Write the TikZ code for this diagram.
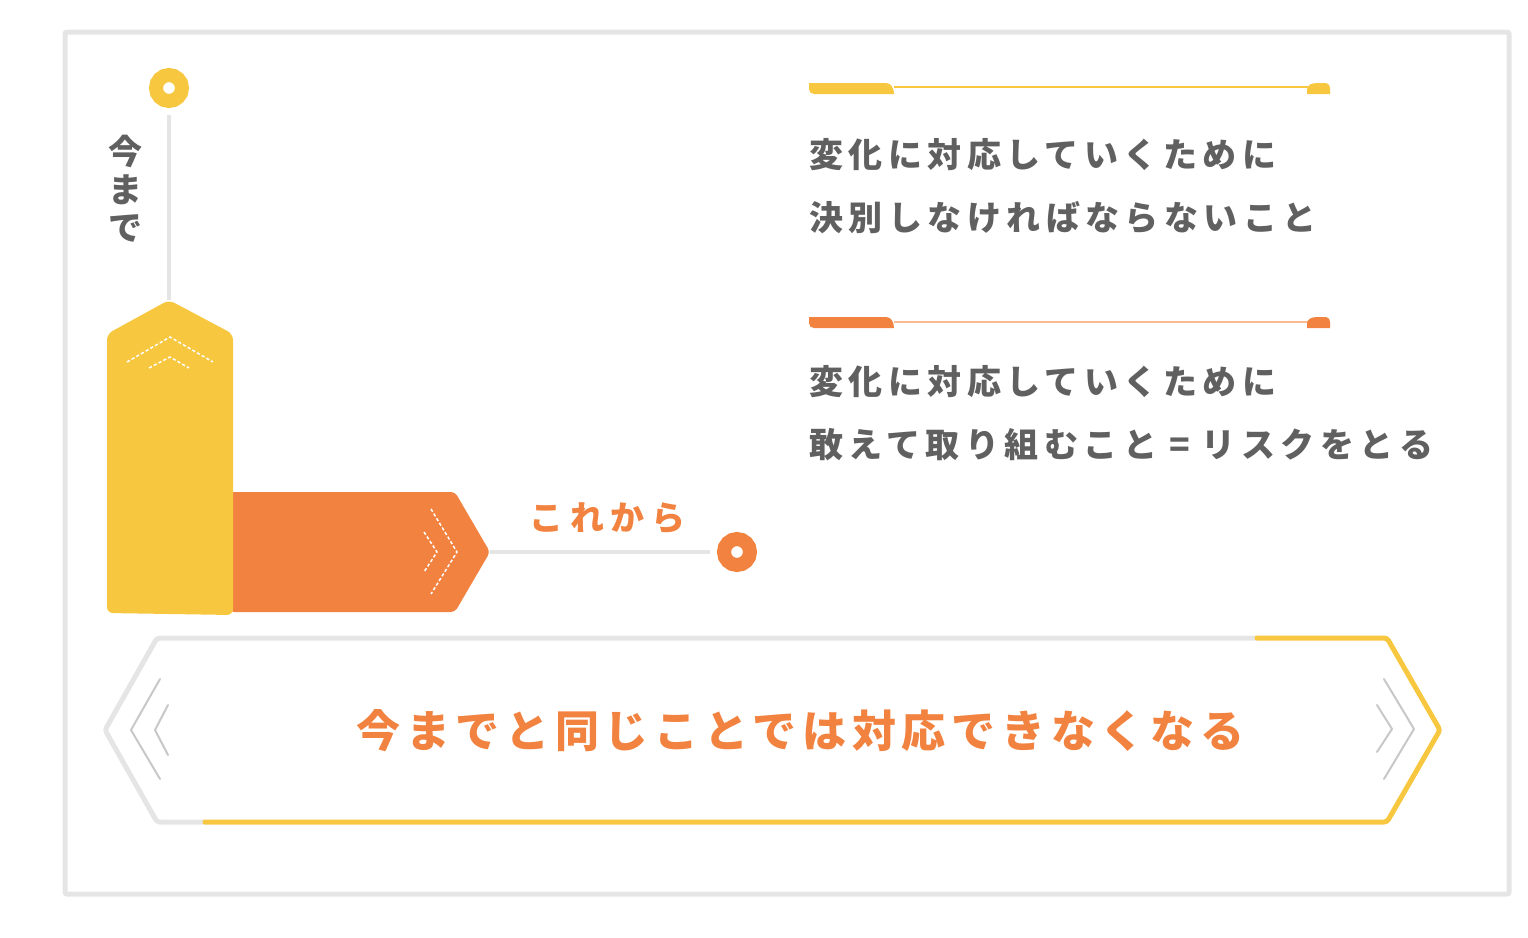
\documentclass[tikz,border=0pt]{standalone}
\usepackage{fontspec}
\usepackage{tikz}
\newfontfamily\jpfont{Noto Sans CJK JP}
\definecolor{MarkYellow}{RGB}{247,199,64}
\definecolor{MarkOrange}{RGB}{242,130,63}
\definecolor{PaleOrange}{RGB}{249,187,148}
\definecolor{TextGray}{RGB}{96,96,96}
\definecolor{LineGray}{RGB}{229,229,229}
\definecolor{ChevGray}{RGB}{200,200,200}

\begin{document}
\begin{tikzpicture}[x=0.5pt, y=-0.5pt,
  ring/.style={circle, draw=#1, line width=7pt, fill=white, minimum size=13pt, inner sep=0pt},
  stem/.style={LineGray, line width=2pt},
  note/.style={anchor=west, inner sep=0pt, text=TextGray,
    font=\jpfont\bfseries\addfontfeatures{LetterSpace=16}\fontsize{17pt}{20pt}\selectfont},
  stitch/.style={white, line width=0.75pt, dash pattern=on 1.6pt off 1.1pt},
  chev/.style={ChevGray, line width=1pt, line cap=round, line join=round}]
\useasboundingbox (0,0) rectangle (1528,938);

% Frame
\draw[LineGray, line width=2.5pt, rounded corners=1pt] (65,32) rectangle (1509,894);

% Arrows
\fill[MarkOrange, rounded corners=2pt] (230,492) -- (455,492) -- (490,552) -- (455,612) -- (230,612) -- cycle;
\coordinate (futuretip) at (490,552);
\draw[stitch] (431,509) -- (457,552) -- (431,594);
\draw[stitch] (424,532) -- (437,552) -- (424,572);

\fill[MarkYellow, rounded corners=3pt] (169,300) -- (233,334) -- (233,615) -- (107,613) -- (107,334) -- cycle;
\coordinate (pasttip) at (169,300);
\draw[stitch] (127,362) -- (170,337) -- (213,362);
\draw[stitch] (149,368) -- (170,357) -- (189,368);

% Nodes
\node[ring=MarkYellow] (dotpast) at (169,88) {};
\node[ring=MarkOrange] (dotfuture) at (737,552) {};
\draw[stem, shorten <=3.5pt] (dotpast) -- (pasttip);
\draw[stem, shorten >=3.5pt] (futuretip) -- (dotfuture);

\node[text=TextGray, align=center, inner sep=0pt,
  font=\jpfont\bfseries\fontsize{17pt}{19pt}\selectfont] (past) at (125,189) {今\\ま\\で};
\node[anchor=west, inner sep=0pt, text=MarkOrange,
  font=\jpfont\bfseries\addfontfeatures{LetterSpace=20}\fontsize{17pt}{20pt}\selectfont] (future) at (529,518) {これから};

% Headings
\fill[MarkYellow] (809,83) -- (886,83) .. controls (891,83) and (894,88) .. (894,94) -- (814,94) .. controls (811,94) and (809,92) .. (809,89) -- cycle;
\draw[MarkYellow, line width=0.75pt] (894,87) -- (1308,87);
\fill[MarkYellow] (1307,94) -- (1307,90) .. controls (1307,85) and (1311,83) .. (1318,83) -- (1326,83) .. controls (1329,83) and (1330,86) .. (1330,88) -- (1330,94) -- cycle;

\begin{scope}[shift={(0,234)}]
\fill[MarkOrange] (809,83) -- (886,83) .. controls (891,83) and (894,88) .. (894,94) -- (814,94) .. controls (811,94) and (809,92) .. (809,89) -- cycle;
\draw[PaleOrange, line width=0.75pt] (894,88) -- (1308,88);
\fill[MarkOrange] (1307,94) -- (1307,90) .. controls (1307,85) and (1311,83) .. (1318,83) -- (1326,83) .. controls (1329,83) and (1330,86) .. (1330,88) -- (1330,94) -- cycle;
\end{scope}

\node[note] (quitA) at (809,155) {変化に対応していくために};
\node[note] (quitB) at (809,218) {決別しなければならないこと};
\node[note] (riskA) at (809,382) {変化に対応していくために};
\node[note] (riskB) at (809,445) {敢えて取り組むこと\hspace{6pt}=\hspace{6pt}リスクをとる};

% Banner
\draw[LineGray, line width=2.5pt, line cap=round, rounded corners=1.5pt] (1257,638) -- (157,638) -- (105,730) -- (157,822) -- (205,822);
\draw[MarkYellow, line width=2.5pt, line cap=round, rounded corners=1.5pt] (1257,638) -- (1387,638) -- (1440,730) -- (1387,822) -- (205,822);
\draw[chev] (160,679) -- (131,730) -- (160,779);
\draw[chev] (168,705) -- (155,730) -- (168,755);
\draw[chev] (1384,679) -- (1414,729) -- (1384,779);
\draw[chev] (1377,705) -- (1392,729) -- (1377,752);
\node[anchor=west, inner sep=0pt, text=MarkOrange,
  font=\jpfont\bfseries\addfontfeatures{LetterSpace=13}\fontsize{22pt}{26pt}\selectfont] (message) at (356,731) {今までと同じことでは対応できなくなる};
\end{tikzpicture}
\end{document}
